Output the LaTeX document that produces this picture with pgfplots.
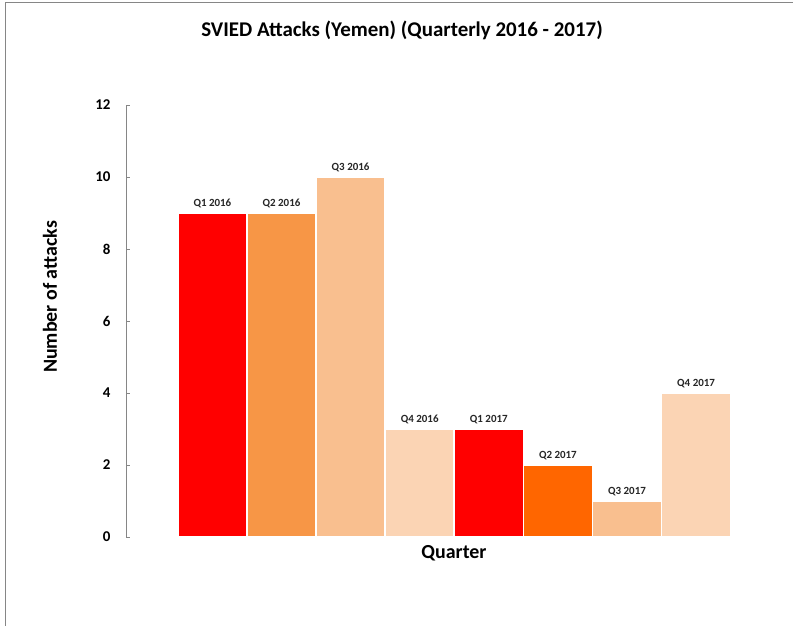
\documentclass[border=0pt]{standalone}
\usepackage{fontspec}
\setmainfont{Carlito}
\usepackage{pgfplots}
\pgfplotsset{compat=1.18}
\definecolor{cA}{HTML}{FF0000}
\definecolor{cB}{HTML}{F79646}
\definecolor{cC}{HTML}{F9BF8F}
\definecolor{cD}{HTML}{FBD4B4}
\definecolor{cE}{HTML}{FF6600}
\definecolor{axgray}{HTML}{868686}
\begin{document}
\begin{tikzpicture}[x=1bp,y=1bp]
\path[use as bounding box] (0,0) rectangle (793,626);
\draw[axgray,line width=1bp] (5,0) -- (5,623) -- (793,623);
\begin{axis}[
  at={(126bp,89bp)}, anchor=south west,
  scale only axis, width=639.2bp, height=432bp,
  xmin=-1.25, xmax=8, ymin=0, ymax=12,
  axis y line=left, axis x line=none,
  axis line style={axgray,-,line width=0.8bp},
  ytick={0,2,...,12},
  tick align=inside, major tick length=4bp,
  tick style={axgray,line width=0.8bp},
  /pgf/number format/assume math mode=true,
  yticklabel style={font=\fontsize{15}{17}\selectfont\bfseries, text=black, xshift=-12bp},
  ybar, bar width=1, bar shift=0pt,
  every axis plot/.append style={draw=white, line width=1.5bp},
  nodes near coords, point meta=explicit symbolic,
  every node near coord/.append style={font=\fontsize{11}{13}\selectfont\bfseries, text=black!85, anchor=south, yshift=1bp},
  clip=false,
]
\addplot[fill=cA] coordinates {(0,9) [Q1 2016]};
\addplot[fill=cB] coordinates {(1,9) [Q2 2016]};
\addplot[fill=cC] coordinates {(2,10) [Q3 2016]};
\addplot[fill=cD] coordinates {(3,3) [Q4 2016]};
\addplot[fill=cA] coordinates {(4,3) [Q1 2017]};
\addplot[fill=cE] coordinates {(5,2) [Q2 2017]};
\addplot[fill=cC] coordinates {(6,1) [Q3 2017]};
\addplot[fill=cD] coordinates {(7,4) [Q4 2017]};
\end{axis}
\node[font=\fontsize{21}{24}\selectfont\bfseries] at (402,596) {SVIED Attacks (Yemen) (Quarterly 2016 - 2017)};
\node[font=\fontsize{20}{23}\selectfont\bfseries, rotate=90] at (50,329) {Number of attacks};
\node[font=\fontsize{20}{23}\selectfont\bfseries] at (454,73) {Quarter};
\end{tikzpicture}
\end{document}
